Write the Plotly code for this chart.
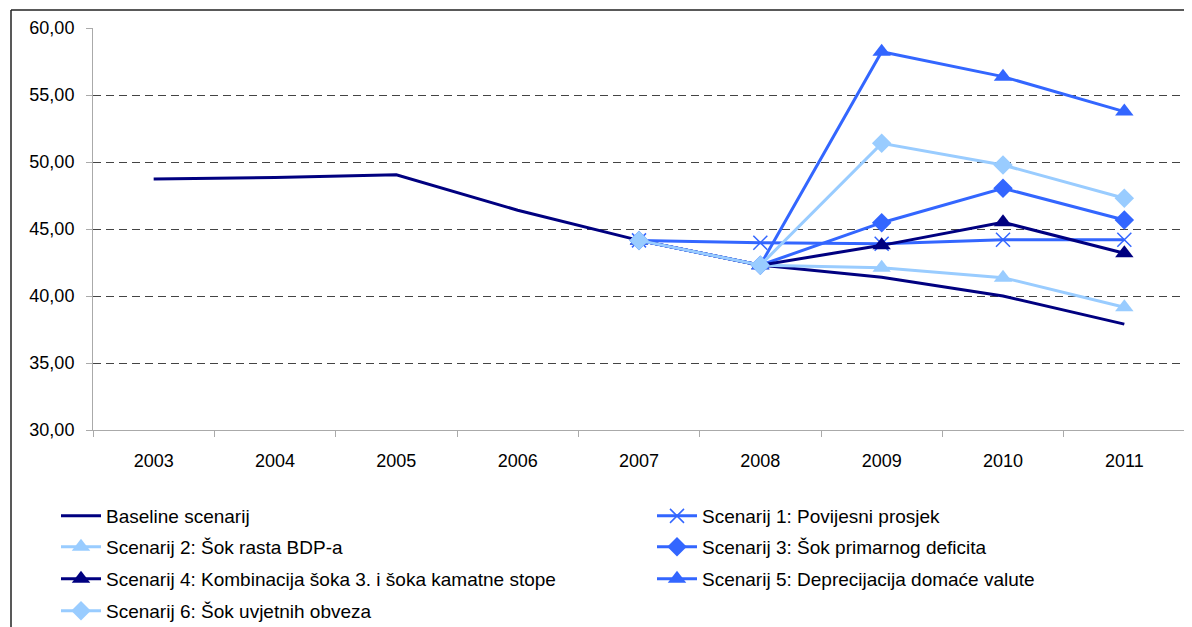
import plotly.graph_objects as go

years = ["2003", "2004", "2005", "2006", "2007", "2008", "2009", "2010", "2011"]
scen_years = ["2007", "2008", "2009", "2010", "2011"]

baseline = [48.73, 48.85, 49.05, 46.40, 44.15, 42.30, 41.40, 40.00, 37.90]
s1 = [44.15, 43.98, 43.90, 44.20, 44.20]
s2 = [44.15, 42.30, 42.10, 41.37, 39.16]
s3 = [44.15, 42.30, 45.47, 48.04, 45.67]
s4 = [44.15, 42.30, 43.78, 45.50, 43.19]
s5 = [44.15, 42.30, 58.23, 56.37, 53.76]
s6 = [44.15, 42.30, 51.39, 49.78, 47.29]

names = [
    "Baseline scenarij",
    "Scenarij 1: Povijesni prosjek",
    "Scenarij 2: Šok rasta BDP-a",
    "Scenarij 3: Šok primarnog deficita",
    "Scenarij 4: Kombinacija šoka 3. i šoka kamatne stope",
    "Scenarij 5: Deprecijacija domaće valute",
    "Scenarij 6: Šok uvjetnih obveza",
]

NAVY = "#000080"
BLUE = "#3366FF"
LIGHT = "#99CCFF"

series = [
    (years, baseline, NAVY, None),
    (scen_years, s1, BLUE, "x-thin"),
    (scen_years, s2, LIGHT, "triangle-up"),
    (scen_years, s3, BLUE, "diamond"),
    (scen_years, s4, NAVY, "triangle-up"),
    (scen_years, s5, BLUE, "triangle-up"),
    (scen_years, s6, LIGHT, "diamond"),
]

# page body has an 8px margin; figure coordinates = page coordinates - 8
OFF = 8
W, H = 1192, 627
L, T = 93 - OFF, 28 - OFF
R = W - (1185 - OFF)
B = H - (430 - OFF)
pw = W - L - R
ph = H - T - B

def px2x(px):
    return (px - OFF - L) / pw

def py2y(py):
    return (H - B - (py - OFF)) / ph

FONT = "Liberation Sans, Arial"

legend_pos = [
    (56, 516), (652, 516),
    (56, 547), (652, 547),
    (56, 579), (652, 579),
    (56, 611),
]

fig = go.Figure()
for i, (xs, ys, col, sym) in enumerate(series):
    lg = "legend" if i == 0 else f"legend{i+1}"
    kw = dict(x=xs, y=ys, name=names[i], legend=lg,
              line=dict(color=col, width=3))
    if sym is None:
        kw["mode"] = "lines"
    else:
        kw["mode"] = "lines+markers"
        if sym == "x-thin":
            kw["marker"] = dict(symbol=sym, size=14, color=col,
                                line=dict(color=col, width=1.5))
        else:
            kw["marker"] = dict(symbol=sym, size=15 if sym == "diamond" else 16,
                                color=col, line=dict(width=0))
    fig.add_trace(go.Scatter(**kw))

legends = {}
for i, (lx, ly) in enumerate(legend_pos):
    key = "legend" if i == 0 else f"legend{i+1}"
    legends[key] = dict(x=px2x(lx), y=py2y(ly), xanchor="left", yanchor="middle",
                        xref="paper", yref="paper",
                        font=dict(family=FONT, size=19, color="#000"),
                        bgcolor="rgba(0,0,0,0)", borderwidth=0, itemwidth=40)

fig.update_layout(
    width=W, height=H,
    margin=dict(l=L, r=R, t=T, b=B, autoexpand=False),
    paper_bgcolor="white", plot_bgcolor="white",
    separators=",.",
    font=dict(family=FONT, size=18, color="#000"),
    showlegend=True,
    **legends,
    xaxis=dict(type="category", categoryorder="array", categoryarray=years,
               showgrid=False, showline=True, linecolor="#AAAAAA", linewidth=1,
               ticks="outside", ticklen=6, tickcolor="#AAAAAA", tickson="boundaries",
               ticklabelstandoff=14,
               tickfont=dict(family=FONT, size=18, color="#000"), range=[-0.5, 8.5]),
    yaxis=dict(range=[30, 60], dtick=5, tickformat=".2f",
               showgrid=True, gridcolor="#444444", griddash="8px,5px", gridwidth=1,
               showline=True, linecolor="#AAAAAA", linewidth=1,
               ticks="outside", ticklen=6, tickcolor="#AAAAAA",
               ticklabelstandoff=8,
               tickfont=dict(family=FONT, size=18, color="#000"), zeroline=False),
    shapes=[
        dict(type="line", xref="paper", yref="paper",
             x0=px2x(11), x1=px2x(11), y0=py2y(660), y1=py2y(10),
             line=dict(color="#222", width=1.5), layer="below"),
        dict(type="line", xref="paper", yref="paper",
             x0=px2x(11), x1=px2x(1240), y0=py2y(10), y1=py2y(10),
             line=dict(color="#222", width=1.5), layer="below"),
    ],
)

fig.write_html("out.html")
